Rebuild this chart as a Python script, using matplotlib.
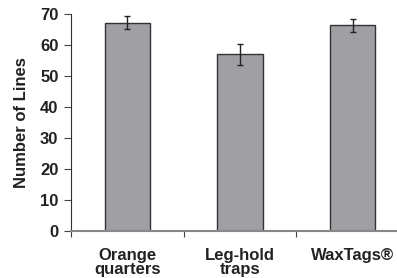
import matplotlib
matplotlib.use("Agg")
import matplotlib.pyplot as plt
import numpy as np

categories = ["Orange\nquarters", "Leg-hold\ntraps", "WaxTags®"]
means = [67.2, 57.0, 66.3]
errors = [2.1, 3.4, 2.1]
yticks = [0, 10, 20, 30, 40, 50, 60, 70]

plt.rcParams["font.family"] = ["Liberation Sans", "DejaVu Sans"]
plt.rcParams["font.weight"] = "bold"

fig = plt.figure(figsize=(3.97, 2.78), dpi=100)
ax = fig.add_axes([71 / 397, 47 / 278, 338 / 397, 217 / 278])

x = np.arange(len(categories))
ax.bar(x, means, width=0.4, color="#a0a0a4", edgecolor="#333333", linewidth=1.0,
       yerr=errors, capsize=2.5, error_kw=dict(ecolor="#222222", elinewidth=1.0, capthick=1.0))

ax.set_xlim(-0.5, 2.5)
ax.set_ylim(0, 70)
ax.set_yticks(yticks)
ax.set_yticklabels([str(v) for v in yticks], fontsize=12, fontweight="bold", color="#222222")

# category labels sit under the bars, ticks go between them
ax.set_xticks(x)
ax.set_xticklabels(categories, fontsize=12, fontweight="bold", color="#222222", linespacing=0.95)
ax.tick_params(axis="x", length=0, pad=12)
ax.set_xticks([-0.5, 0.5, 1.5, 2.5], minor=True)
ax.tick_params(axis="x", which="minor", length=4, width=0.8, color="#444444")
ax.tick_params(axis="y", length=5, width=0.8, color="#444444", pad=4)

ax.set_ylabel("Number of Lines", fontsize=12, fontweight="bold", color="#222222", labelpad=8)

for s in ["top", "right"]:
    ax.spines[s].set_visible(False)
ax.spines["left"].set_color("#333333")
ax.spines["left"].set_linewidth(0.8)
ax.spines["bottom"].set_color("#888888")
ax.spines["bottom"].set_linewidth(1.5)

fig.savefig("out.png", dpi=100)
